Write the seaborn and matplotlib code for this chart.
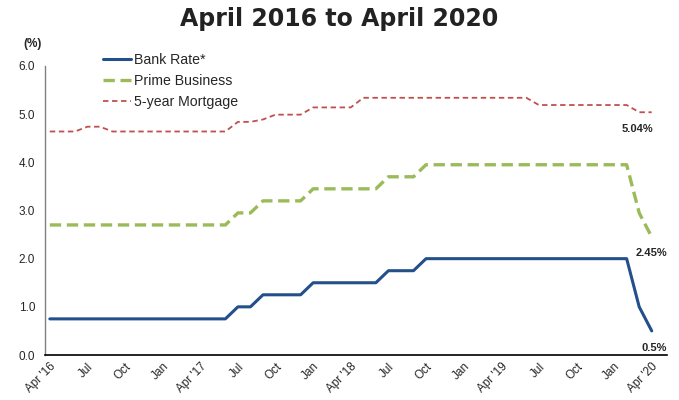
import numpy as np
import pandas as pd
import matplotlib
matplotlib.use("Agg")
import matplotlib.pyplot as plt
import seaborn as sns

# monthly values, April 2016 .. April 2020
months = pd.date_range("2016-04-01", "2020-04-01", freq="MS")

bank_rate = ([0.75] * 15 + [1.00] * 2 + [1.25] * 4 + [1.50] * 6
             + [1.75] * 3 + [2.00] * 17 + [1.00, 0.50])
prime_business = ([2.70] * 15 + [2.95] * 2 + [3.20] * 4 + [3.45] * 6
                  + [3.70] * 3 + [3.95] * 17 + [2.95, 2.45])
mortgage_5yr = ([4.64] * 3 + [4.74] * 2 + [4.64] * 10 + [4.84] * 2 + [4.89]
                + [4.99] * 3 + [5.14] * 4 + [5.34] * 14 + [5.19] * 8 + [5.04] * 2)

tick_labels = ["Apr '16", "Jul", "Oct", "Jan", "Apr '17", "Jul", "Oct", "Jan",
               "Apr '18", "Jul", "Oct", "Jan", "Apr '19", "Jul", "Oct", "Jan",
               "Apr '20"]
end_labels = ["5.04%", "2.45%", "0.5%"]

sns.set_style("white")
plt.rcParams["font.family"] = ["Liberation Sans", "DejaVu Sans"]

df = pd.DataFrame({"month": np.arange(len(months)),
                   "Bank Rate*": bank_rate,
                   "Prime Business": prime_business,
                   "5-year Mortgage": mortgage_5yr})

fig = plt.figure(figsize=(6.79, 4.0), dpi=100)
ax = fig.add_axes([0.066, 0.1125, 0.916, 0.7225])

sns.lineplot(data=df, x="month", y="Bank Rate*", ax=ax, color="#234F8A",
             linewidth=2.2, label="Bank Rate*")
sns.lineplot(data=df, x="month", y="Prime Business", ax=ax, color="#9BBB59",
             linewidth=2.4, linestyle=(0, (3.4, 1.7)), label="Prime Business")
sns.lineplot(data=df, x="month", y="5-year Mortgage", ax=ax, color="#C0504D",
             linewidth=1.3, linestyle=(0, (3, 2)), label="5-year Mortgage")

ax.set_xlim(-0.4, 49.2)
ax.set_ylim(0, 6)
ax.set_yticks(np.arange(0, 6.01, 1.0))
ax.set_yticklabels([f"{v:.1f}" for v in np.arange(0, 6.01, 1.0)], fontsize=8.5)
ax.set_xticks(df["month"][::3])
ax.set_xticklabels(tick_labels, rotation=45, ha="right", rotation_mode="anchor",
                   fontsize=8.5)
ax.tick_params(axis="x", length=0, pad=4)
ax.tick_params(axis="y", length=0, pad=7)
ax.set_xlabel("")
ax.set_ylabel("")

for side in ["top", "right"]:
    ax.spines[side].set_visible(False)
ax.spines["left"].set_color("#808080")
ax.spines["left"].set_linewidth(1.0)
ax.spines["bottom"].set_color("black")
ax.spines["bottom"].set_linewidth(1.2)

last = len(months) - 1
ax.annotate(end_labels[0], (last, mortgage_5yr[-1]), xytext=(-10, -14),
            textcoords="offset points", ha="center", fontsize=8, fontweight="bold")
ax.annotate(end_labels[1], (last, prime_business[-1]), xytext=(0, -14),
            textcoords="offset points", ha="center", fontsize=8, fontweight="bold")
ax.annotate(end_labels[2], (last, 0), xytext=(2, 3),
            textcoords="offset points", ha="center", fontsize=8, fontweight="bold")

ax.legend(loc="upper left", bbox_to_anchor=(0.133, 0.9),
          bbox_transform=fig.transFigure, frameon=False, fontsize=10.2,
          handlelength=2.0, handletextpad=0.2, labelspacing=0.5)

fig.text(0.048, 0.89, "(%)", ha="center", va="center", fontsize=8.5,
         fontweight="bold")
fig.text(0.499, 0.952, "April 2016 to April 2020", ha="center", va="center",
         fontsize=17, fontweight="heavy", family="DejaVu Sans", color="#222222")

fig.savefig("out.png", dpi=100)
